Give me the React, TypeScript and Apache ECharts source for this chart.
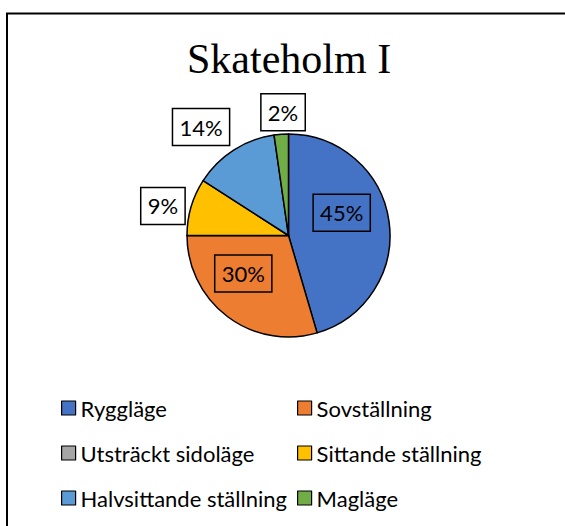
import React, { useEffect, useRef } from 'react';
import * as echarts from 'echarts';

const chartTitle = 'Skateholm I';
const categories = [
  'Ryggläge',
  'Sovställning',
  'Utsträckt sidoläge',
  'Sittande ställning',
  'Halvsittande ställning',
  'Magläge',
];
const counts = [20, 13, 0, 4, 6, 1];

// styling
const colors = ['#4472C4', '#ED7D31', '#A5A5A5', '#FFC000', '#5B9BD5', '#70AD47'];
const labelPlacement = ['inside', 'inside', 'outside', 'outside', 'outside', 'outside'];
const labelNudge = [
  [0, -15],
  [-13, -5],
  [0, 0],
  [-6, -1],
  [-4, -23],
  [24, -22],
];
const legendCells = [
  [61, 408],
  [297, 408],
  [61, 453],
  [297, 453],
  [61, 498],
  [297, 498],
];
const sansFont = 'Lato, "Noto Sans", sans-serif';

export default function App() {
  const ref = useRef<HTMLDivElement>(null);
  useEffect(() => {
    if (!ref.current) return;
    const chart = echarts.init(ref.current, undefined, { renderer: 'svg' });
    const data = categories.map((name, i) => ({
      name,
      value: counts[i],
      itemStyle: { color: colors[i] },
      label: {
        show: counts[i] > 0,
        position: labelPlacement[i] as any,
      },
    }));
    const legends = categories.map((name, i) => ({
      data: [name],
      left: legendCells[i][0],
      top: legendCells[i][1] - 11,
      padding: 0,
      icon: 'rect',
      itemWidth: 14,
      itemHeight: 14,
      selectedMode: false,
      textStyle: { fontFamily: sansFont, fontSize: 22, color: '#000' },
      itemStyle: { borderColor: '#000', borderWidth: 1.2 },
    }));
    chart.setOption({
      animation: false,
      backgroundColor: '#fff',
      title: {
        text: chartTitle,
        left: 182,
        top: 33,
        textStyle: {
          fontFamily: '"Liberation Serif", "Times New Roman", serif',
          fontSize: 42,
          fontWeight: 'normal',
          color: '#000',
        },
      },
      legend: legends,
      graphic: [
        {
          type: 'rect',
          shape: { x: 7, y: 13.5, width: 700, height: 700 },
          style: { fill: 'none', stroke: '#000', lineWidth: 2 },
          silent: true,
        },
      ],
      series: [
        {
          type: 'pie',
          center: [288.5, 235.5],
          radius: 101.5,
          startAngle: 90,
          clockwise: true,
          avoidLabelOverlap: false,
          percentPrecision: 0,
          itemStyle: { borderColor: '#000', borderWidth: 1.5 },
          label: {
            formatter: '{d}%',
            fontFamily: sansFont,
            fontSize: 22,
            lineHeight: 23,
            color: '#000',
            borderColor: '#000',
            borderWidth: 1.5,
            padding: [7, 7],
            distanceToLabelLine: 0,
          },
          labelLine: { show: false, length: 0, length2: 0 },
          labelLayout: (params: any) => ({
            dx: labelNudge[params.dataIndex][0],
            dy: labelNudge[params.dataIndex][1],
          }),
          emphasis: { disabled: true },
          data,
        },
      ],
    });
    return () => chart.dispose();
  }, []);
  return (
    <div
      ref={ref}
      style={{ position: 'absolute', left: 0, top: 0, width: 565, height: 526, background: '#fff' }}
    />
  );
}
